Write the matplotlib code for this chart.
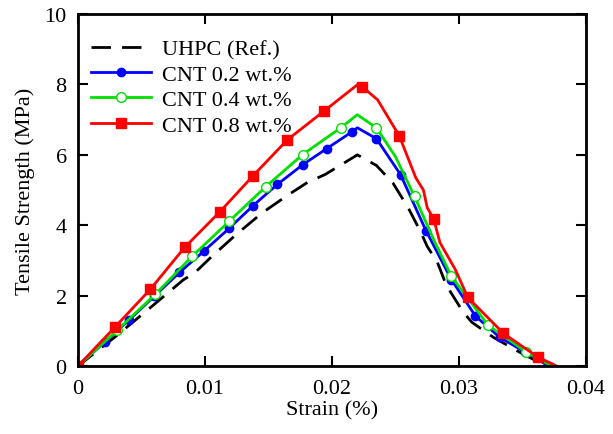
import numpy as np
import matplotlib.pyplot as plt

# Dados (deformação em %, resistência em MPa)
x_ref = [0, 0.003, 0.006, 0.0083, 0.0092, 0.0105, 0.0125, 0.0145, 0.0165, 0.018, 0.0195,
         0.022, 0.0235, 0.0248, 0.026, 0.027, 0.0275, 0.0283, 0.029, 0.0303, 0.031, 0.0327,
         0.035, 0.0369]
y_ref = [0, 0.85, 1.75, 2.45, 2.65, 3.1, 3.75, 4.35, 4.85, 5.2, 5.45,
         6.0, 5.7, 5.2, 4.5, 3.8, 3.4, 2.95, 2.3, 1.55, 1.25, 0.82,
         0.35, 0.0]

x_02 = [0, 0.0021, 0.0040, 0.0060, 0.0080, 0.0099, 0.0119, 0.0138, 0.0157, 0.0177, 0.0196,
        0.0216, 0.0220, 0.0235, 0.0254, 0.0274, 0.0294, 0.0313, 0.0332, 0.0352, 0.0371]
y_02 = [0, 0.68, 1.30, 1.98, 2.66, 3.26, 3.91, 4.56, 5.16, 5.72, 6.18,
        6.66, 6.77, 6.46, 5.44, 3.85, 2.46, 1.42, 0.82, 0.40, 0.0]
mk_02 = [0, 1, 2, 3, 4, 5, 6, 7, 8, 9, 10, 11, 13, 14, 15, 16, 17, 18, 19, 20]

x_04 = [0, 0.0031, 0.0061, 0.0090, 0.0119, 0.0148, 0.0177, 0.0207, 0.0220, 0.0235,
        0.0250, 0.0265, 0.0280, 0.0294, 0.0323, 0.0353, 0.0373]
y_04 = [0, 1.02, 2.04, 3.12, 4.11, 5.10, 6.01, 6.77, 7.14, 6.77,
        5.95, 4.82, 3.60, 2.55, 1.16, 0.40, 0.0]
mk_04 = [0, 1, 2, 3, 4, 5, 6, 7, 9, 11, 13, 14, 15]

x_08 = [0, 0.0029, 0.0057, 0.0084, 0.0112, 0.0138, 0.0165, 0.0194, 0.0220, 0.0224,
        0.0236, 0.0253, 0.0266, 0.0272, 0.0275, 0.0280, 0.0285, 0.0297, 0.0307, 0.0335,
        0.0362, 0.0377]
y_08 = [0, 1.10, 2.18, 3.37, 4.39, 5.41, 6.43, 7.25, 7.99, 7.93,
        7.56, 6.54, 5.35, 5.00, 4.50, 4.19, 3.51, 2.75, 1.95, 0.93,
        0.26, 0.0]
mk_08 = [0, 1, 2, 3, 4, 5, 6, 7, 9, 11, 15, 18, 19, 20]

plt.rcParams['font.family'] = ['Liberation Serif', 'DejaVu Serif']
plt.rcParams['font.size'] = 16

fig = plt.figure(figsize=(6.13, 4.35), dpi=100)
ax = fig.add_axes([0.127, 0.156, 0.829, 0.8095])

ax.plot(x_ref, y_ref, color='black', linestyle=(0, (7, 4)), linewidth=2, label='UHPC (Ref.)')
ax.plot(x_02, y_02, color='blue', linewidth=2, marker='o', markersize=6,
        markevery=mk_02, label='CNT 0.2 wt.%')
ax.plot(x_04, y_04, color='#00e000', linewidth=2, marker='o', markersize=7,
        markerfacecolor='white', markeredgecolor='#00e000', markevery=mk_04,
        label='CNT 0.4 wt.%')
ax.plot(x_08, y_08, color='red', linewidth=2, marker='s', markersize=7,
        markevery=mk_08, label='CNT 0.8 wt.%')

ax.set_xlim(0, 0.04)
ax.set_ylim(0, 10)
ax.set_xticks([0, 0.01, 0.02, 0.03, 0.04])
ax.set_xticklabels(['0', '0.01', '0.02', '0.03', '0.04'])
ax.set_yticks([0, 2, 4, 6, 8, 10])
ax.tick_params(direction='in', top=True, right=True, length=7, width=1.5)
ax.tick_params(axis='x', pad=9)
ax.tick_params(axis='y', pad=8)
for s in ax.spines.values():
    s.set_linewidth(2)

ax.set_xlabel('Strain (%)', labelpad=2)
ax.set_ylabel('Tensile Strength (MPa)', labelpad=7)

ax.legend(loc='upper left', frameon=False, handlelength=2.7, handletextpad=0.5,
          labelspacing=0.22, borderaxespad=0.0, bbox_to_anchor=(0.008, 0.955))

fig.savefig('out.png', dpi=100)
